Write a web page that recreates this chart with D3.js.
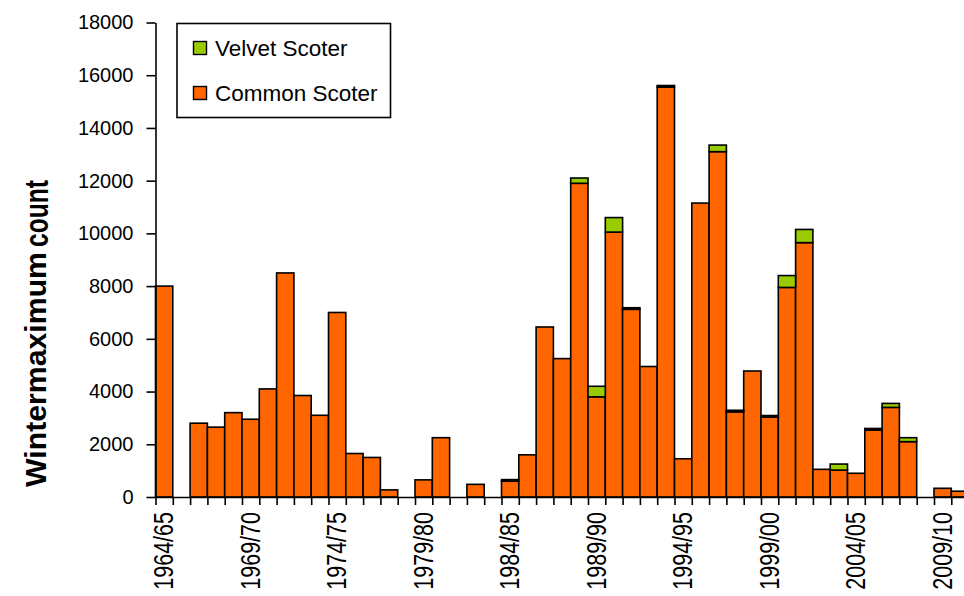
<!DOCTYPE html>
<html>
<head>
<meta charset="utf-8">
<script src="https://cdn.jsdelivr.net/npm/d3@7"></script>
<style>
  html, body { margin: 0; padding: 0; background: #fff; }
  svg { display: block; font-family: "Liberation Sans", Arial, sans-serif; }
</style>
</head>
<body>
<svg id="chart" width="964" height="596"></svg>
<script>
// Winter seasons, 1964/65 to 2010/11
const seasons = [
  "1964/65","1965/66","1966/67","1967/68","1968/69","1969/70","1970/71","1971/72",
  "1972/73","1973/74","1974/75","1975/76","1976/77","1977/78","1978/79","1979/80",
  "1980/81","1981/82","1982/83","1983/84","1984/85","1985/86","1986/87","1987/88",
  "1988/89","1989/90","1990/91","1991/92","1992/93","1993/94","1994/95","1995/96",
  "1996/97","1997/98","1998/99","1999/00","2000/01","2001/02","2002/03","2003/04",
  "2004/05","2005/06","2006/07","2007/08","2008/09","2009/10","2010/11"
];

// Winter maximum counts per season
const commonScoter = [
  8000, 0, 2800, 2650, 3200, 2950, 4100, 8500, 3850, 3100,
  7000, 1650, 1500, 270, 0, 650, 2250, 0, 480, 0,
  600, 1600, 6450, 5250, 11900, 3800, 10050, 7120, 4950, 15550,
  1450, 11150, 13100, 3230, 4780, 3030, 7950, 9650, 1050, 1020,
  900, 2540, 3400, 2100, 0, 330, 220
];
const velvetScoter = [
  0, 0, 0, 0, 0, 0, 0, 0, 0, 0,
  0, 0, 0, 0, 0, 0, 0, 0, 0, 0,
  60, 0, 0, 0, 200, 400, 550, 60, 0, 60,
  0, 0, 250, 60, 0, 60, 450, 500, 0, 230,
  0, 60, 150, 150, 0, 0, 0
];

const yTicks = [0, 2000, 4000, 6000, 8000, 10000, 12000, 14000, 16000, 18000];
const labelledSeasons = ["1964/65","1969/70","1974/75","1979/80","1984/85","1989/90","1994/95","1999/00","2004/05","2009/10"];

const seriesNames = ["Common Scoter", "Velvet Scoter"];
const seriesColors = { "Common Scoter": "#ff6600", "Velvet Scoter": "#99cc00" };

const svg = d3.select("#chart");
const plotLeft = 155.5, plotBottom = 497, plotTop = 22.5, step = 17.3;

const x = d3.scaleBand()
  .domain(seasons)
  .range([plotLeft, plotLeft + step * seasons.length])
  .padding(0);

const xEdge = d3.scaleLinear()
  .domain([0, seasons.length])
  .range([plotLeft, plotLeft + step * seasons.length]);

const y = d3.scaleLinear().domain([0, 18000]).range([plotBottom, plotTop]);

// Stack the two species per season
const rows = seasons.map((s, i) => ({ season: s, "Common Scoter": commonScoter[i], "Velvet Scoter": velvetScoter[i] }));
const stacked = d3.stack().keys(seriesNames)(rows);

const bars = svg.append("g");
stacked.forEach(layer => {
  bars.append("g")
    .attr("fill", seriesColors[layer.key])
    .selectAll("rect")
    .data(layer.filter(d => d[1] - d[0] > 0))
    .join("rect")
      .attr("x", d => x(d.data.season))
      .attr("width", x.bandwidth())
      .attr("y", d => y(d[1]))
      .attr("height", d => y(d[0]) - y(d[1]))
      .attr("stroke", "#000")
      .attr("stroke-width", 1.6);
});

// X axis: a tick at every season boundary
const xAxis = svg.append("g")
  .attr("transform", `translate(0,${plotBottom})`)
  .call(d3.axisBottom(xEdge)
    .tickValues(d3.range(0, seasons.length + 1))
    .tickFormat("")
    .tickSize(8)
    .tickSizeOuter(0));
xAxis.select(".domain").attr("stroke", "#000").attr("stroke-width", 1.6);
xAxis.selectAll(".tick line").attr("stroke", "#000").attr("stroke-width", 1.6);

// Season labels, every fifth winter
svg.append("g")
  .selectAll("text")
  .data(labelledSeasons)
  .join("text")
    .attr("transform", d => `translate(${x(d) + x.bandwidth() / 2 + 9},512) rotate(-90) scale(1,1.3)`)
    .attr("text-anchor", "end")
    .attr("font-size", 21.5)
    .attr("fill", "#000")
    .text(d => d);

// Y axis
const yAxis = svg.append("g")
  .attr("transform", `translate(${plotLeft},0)`)
  .call(d3.axisLeft(y).tickValues(yTicks).tickFormat(d3.format("d"))
    .tickSize(9).tickSizeOuter(0).tickPadding(13));
yAxis.select(".domain").attr("stroke", "#000").attr("stroke-width", 1.6);
yAxis.selectAll(".tick line").attr("stroke", "#000").attr("stroke-width", 1.6);
yAxis.selectAll(".tick text")
  .attr("font-size", 20)
  .attr("font-family", "\"Liberation Sans\", Arial, sans-serif")
  .attr("fill", "#000");

// Y axis title
svg.append("text")
  .attr("transform", "translate(46,487) rotate(-90)")
  .attr("font-size", 30)
  .attr("font-weight", "bold")
  .attr("textLength", 235)
  .attr("lengthAdjust", "spacingAndGlyphs")
  .text("Wintermaximum");
svg.append("text")
  .attr("transform", "translate(48,247) rotate(-90)")
  .attr("font-size", 33)
  .attr("font-weight", "bold")
  .attr("textLength", 67)
  .attr("lengthAdjust", "spacingAndGlyphs")
  .text("count");

// Legend
const legend = svg.append("g");
legend.append("rect")
  .attr("x", 177).attr("y", 23.5).attr("width", 213.5).attr("height", 94)
  .attr("fill", "#fff").attr("stroke", "#000").attr("stroke-width", 1.6);
const legendItems = ["Velvet Scoter", "Common Scoter"];
const li = legend.selectAll("g.item")
  .data(legendItems)
  .join("g")
    .attr("class", "item")
    .attr("transform", (d, i) => `translate(0,${i * 45})`);
li.append("rect")
  .attr("x", 193.5).attr("y", 41.5).attr("width", 13).attr("height", 13)
  .attr("fill", d => seriesColors[d]).attr("stroke", "#000").attr("stroke-width", 1.4);
li.append("text")
  .attr("x", 215).attr("y", 56)
  .attr("font-size", 22.5)
  .attr("fill", "#000")
  .text(d => d);
</script>
</body>
</html>
